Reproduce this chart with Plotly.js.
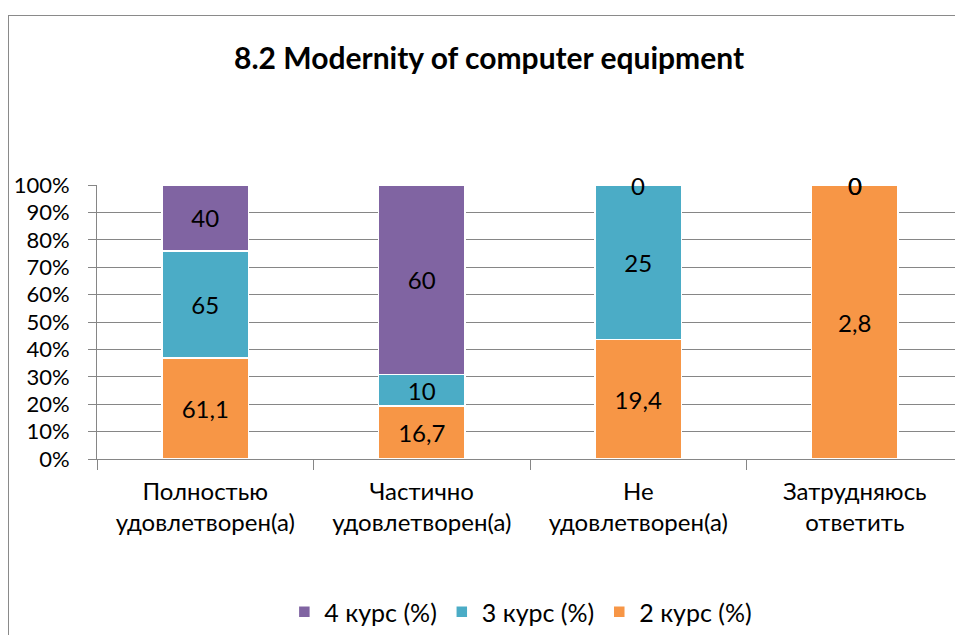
<!DOCTYPE html>
<html>
<head>
<meta charset="utf-8">
<script src="https://cdn.plot.ly/plotly-3.0.1.min.js"></script>
<style>
html,body{margin:0;padding:0;background:#fff;overflow:hidden;}
#frame{position:absolute;left:8px;top:15px;width:1100px;height:800px;border:1px solid #8a8a8a;pointer-events:none;}
#chart{position:absolute;left:0;top:0;width:955px;height:635px;}
</style>
</head>
<body>
<div id="chart"></div>
<div id="frame"></div>
<script>
const categories = ["Полностью<br>удовлетворен(а)", "Частично<br>удовлетворен(а)", "Не<br>удовлетворен(а)", "Затрудняюсь<br>ответить"];
const seriesNames = ["2 курс (%)", "3 курс (%)", "4 курс (%)"];
const kurs2 = [61.1, 16.7, 19.4, 2.8];
const kurs3 = [65, 10, 25, 0];
const kurs4 = [40, 60, 0, 0];
const colors = ["#F79646", "#4BACC6", "#8064A2"];
const titleText = "8.2 Modernity of computer equipment";

const FONT = "Lato, 'Liberation Sans', sans-serif";
const series = [kurs2, kurs3, kurs4];
const fmt = v => String(v).replace('.', ',');

const traces = series.map((vals, i) => ({
  type: 'bar',
  name: seriesNames[i],
  x: categories,
  y: vals,
  marker: {color: colors[i], line: {color: '#ffffff', width: 1.5}},
  text: vals.map(v => v === 0 ? '' : fmt(v)),
  textposition: 'inside',
  insidetextanchor: 'middle',
  textangle: 0,
  constraintext: 'none',
  textfont: {family: FONT, size: 24, color: '#000'},
  hoverinfo: 'none'
}));

// labels for zero-valued segments, placed at their stacked percentage
const annotations = [];
categories.forEach((c, j) => {
  const total = series.reduce((s, arr) => s + arr[j], 0);
  let cum = 0;
  series.forEach((arr, i) => {
    cum += arr[j];
    if (arr[j] === 0) {
      annotations.push({x: c, y: cum / total * 100, xref: 'x', yref: 'y', text: fmt(arr[j]),
        showarrow: false, font: {family: FONT, size: 24, color: '#000'}, yanchor: 'middle'});
    }
  });
});

const layout = {
  width: 955, height: 635,
  margin: {l: 97, r: 0, t: 185, b: 176, pad: 0},
  paper_bgcolor: 'rgba(0,0,0,0)', plot_bgcolor: 'rgba(0,0,0,0)',
  barmode: 'stack', barnorm: 'percent', bargap: 0.6,
  separators: ', ',
  font: {family: FONT, size: 22, color: '#000'},
  title: {text: '<b>' + titleText + '</b>', font: {family: FONT, size: 30, color: '#000'},
          x: 0.457, xref: 'paper', xanchor: 'center', y: 1 - 58/635, yref: 'container', yanchor: 'middle'},
  xaxis: {type: 'category', range: [-0.5, 3.463], fixedrange: true,
          showline: true, linecolor: '#868686', linewidth: 1,
          ticks: 'outside', tickson: 'boundaries', ticklen: 10, tickcolor: '#868686', tickwidth: 1,
          ticklabelstandoff: 11,
          showgrid: false, tickfont: {family: FONT, size: 24, color: '#000'}},
  yaxis: {range: [0, 100], dtick: 10, ticksuffix: '%', fixedrange: true,
          showline: true, linecolor: '#868686', linewidth: 1,
          ticks: 'outside', ticklen: 8, tickcolor: '#868686',
          showgrid: true, gridcolor: '#868686', gridwidth: 1, zeroline: false,
          ticklabelstandoff: 14,
          tickfont: {family: FONT, size: 22, color: '#000'}},
  legend: {orientation: 'h', traceorder: 'reversed', x: 0.494, xanchor: 'center', xref: 'paper',
           y: (459 - 612) / 274, yanchor: 'middle', font: {family: FONT, size: 25, color: '#000'},
           itemwidth: 30},
  annotations: annotations,
  showlegend: true
};

Plotly.newPlot('chart', traces, layout, {displayModeBar: false, staticPlot: true});
</script>
</body>
</html>
